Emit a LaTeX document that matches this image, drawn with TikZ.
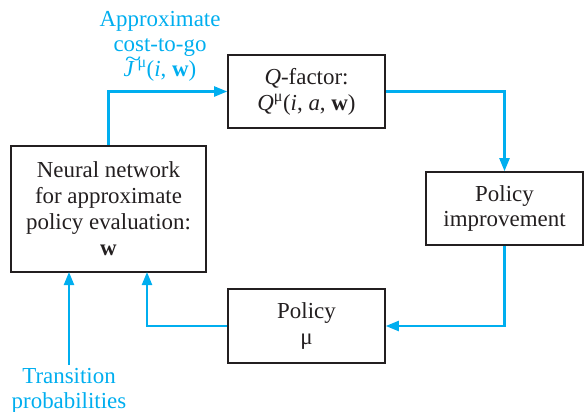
\documentclass[tikz,border=0pt]{standalone}
\usepackage{fontspec}
\setmainfont{Liberation Serif}
\usetikzlibrary{arrows.meta}
\definecolor{flowcyan}{RGB}{0,174,239}
\definecolor{boxline}{RGB}{35,31,32}
% italic J with a wide tilde on top
\newcommand{\jtilde}{\makebox[0pt][l]{\hspace{0.06em}\raisebox{0.42em}{\scalebox{1.3}[1]{\textasciitilde}}}{\itshape J}\,}

\begin{document}
\begin{tikzpicture}[
    x=1bp, y=-1bp,
    >={Triangle[length=13bp,width=10bp]},
    box/.style={draw=boxline, line width=1.6bp, fill=white, align=center,
        inner sep=0pt, font=\fontsize{23}{26}\selectfont, text=boxline},
    link/.style={->, flowcyan, line width=2.2bp},
    cyantext/.style={flowcyan, align=center, font=\fontsize{23}{25}\selectfont}
]
\useasboundingbox (0,0) rectangle (585,411);

% Boxes
\node[box, minimum width=195bp, minimum height=126bp] (nn) at (108.5,209)
    {Neural network\\for approximate\\policy evaluation:\\\textbf{w}};
\node[box, minimum width=157bp, minimum height=73bp] (qf) at (306.5,91.5)
    {{\itshape Q}-factor:\\{\itshape Q}\textsuperscript{μ}({\itshape i}, {\itshape a}, \textbf{w})};
\node[box, minimum width=157bp, minimum height=73bp] (pi) at (504.5,208.5)
    {Policy\\improvement};
\node[box, minimum width=157bp, minimum height=74bp] (pol) at (306.5,326)
    {Policy\\μ};

% Labels
\node[cyantext] (cost) at (160,46)
    {Approximate\\cost-to-go\\\jtilde\textsuperscript{μ}({\itshape i}, \textbf{w})};
\node[cyantext] (trans) at (69,391) {Transition\\probabilities};

% Entry points on the bottom of the network box
\coordinate (nnin1) at (69,272);
\coordinate (nnin2) at (147,272);

% Connectors
\draw[link] (nn.north) |- (qf.west);
\draw[link] (qf.east) -| (pi.north);
\draw[link] (pi.south) |- (pol.east);
\draw[link] (pol.west) -| (nnin2);
\draw[link] (trans.north) -- (nnin1);

\end{tikzpicture}
\end{document}
